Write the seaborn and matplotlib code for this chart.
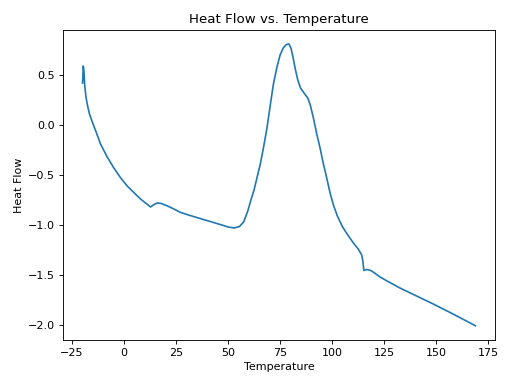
import matplotlib
matplotlib.use("Agg")
import matplotlib.pyplot as plt
import seaborn as sns
import pandas as pd

temperature = [-19.8, -19.5, -19.2, -18.8, -18.2, -17.5, -16.5, -15.5, -13.5, -11.2,
               -8.0, -4.8, -1.5, 1.6, 5.0, 8.0, 11.0, 12.8, 14.5, 16.0,
               18.0, 21.0, 24.0, 27.2, 31.0, 35.0, 39.0, 43.0, 47.0, 50.0,
               53.0, 55.5, 57.5, 59.5, 61.0, 62.5, 64.0, 65.5, 67.0, 68.7,
               70.3, 71.8, 73.5, 75.0, 76.5, 78.0, 79.3, 80.2, 81.2, 82.2,
               83.5, 84.8, 86.5, 88.3, 89.5, 91.0, 92.5, 94.2, 95.8, 97.4,
               99.0, 100.6, 102.5, 105.0, 107.5, 110.2, 112.5, 114.2, 114.8, 115.2,
               116.6, 118.5, 120.0, 123.0, 126.0, 132.5, 140.0, 148.5, 158.0, 168.8]
heat_flow = [0.42, 0.59, 0.55, 0.40, 0.28, 0.20, 0.11, 0.05, -0.06, -0.19,
             -0.32, -0.43, -0.53, -0.61, -0.68, -0.74, -0.79, -0.82, -0.795, -0.78,
             -0.785, -0.81, -0.84, -0.874, -0.90, -0.925, -0.95, -0.975, -1.00, -1.02,
             -1.03, -1.015, -0.97, -0.86, -0.75, -0.65, -0.52, -0.39, -0.23, -0.03,
             0.20, 0.41, 0.58, 0.70, 0.77, 0.805, 0.81, 0.77, 0.68, 0.57,
             0.45, 0.37, 0.32, 0.27, 0.20, 0.07, -0.08, -0.23, -0.39, -0.53,
             -0.68, -0.80, -0.91, -1.02, -1.10, -1.18, -1.24, -1.30, -1.37, -1.455,
             -1.445, -1.455, -1.475, -1.52, -1.556, -1.63, -1.705, -1.79, -1.89, -2.008]

df = pd.DataFrame({"Temperature": temperature, "Heat Flow": heat_flow})

fig, ax = plt.subplots(figsize=(6.4, 4.8), dpi=80)
sns.lineplot(data=df, x="Temperature", y="Heat Flow", ax=ax, sort=False,
             estimator=None, color="#1f77b4", linewidth=1.5)
ax.set_title("Heat Flow vs. Temperature")
ax.set_xlabel("Temperature")
ax.set_ylabel("Heat Flow")
fig.subplots_adjust(left=0.123, right=0.967, top=0.922, bottom=0.115)
fig.savefig("out.png", dpi=80)
